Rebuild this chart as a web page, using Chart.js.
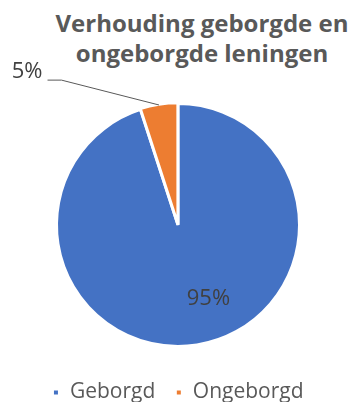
<!DOCTYPE html>
<html>
<head>
<meta charset="utf-8">
<script src="https://cdn.jsdelivr.net/npm/chart.js@4/dist/chart.umd.min.js"></script>
<style>
  body { margin: 0; background: #fff; }
  .wrap { position: relative; width: 356px; height: 402px; }
  .title {
    position: absolute; left: 0; top: 8px; width: 356px; box-sizing: border-box;
    padding-left: 48px; text-align: center; white-space: nowrap;
    font: bold 24px/30px "Open Sans", sans-serif; color: #595959;
  }
  canvas { position: absolute; left: 0; top: 0; }
</style>
</head>
<body>
<div class="wrap">
  <div class="title">Verhouding geborgde en<br>ongeborgde leningen</div>
  <canvas id="pieChart" width="356" height="402"></canvas>
</div>
<script>
const categories = ['Geborgd', 'Ongeborgd'];
const shares = [95, 5];
const percentLabels = ['95%', '5%'];

const colors = ['#4472C4', '#ED7D31'];

// where each label goes: angle clockwise from top (deg), distance as part of radius
const labelPlacement = [
    { angle: 157.7, dist: 0.66 },
    { angle: -38.8, dist: 1.53, leader: true }
];

const sliceLabels = {
    id: 'sliceLabels',
    afterDatasetsDraw(chart) {
        const ctx = chart.ctx;
        const meta = chart.getDatasetMeta(0);
        ctx.save();
        ctx.font = '22px "Open Sans", sans-serif';
        ctx.fillStyle = '#404040';
        meta.data.forEach((arc, i) => {
            const p = arc.getProps(['x', 'y', 'startAngle', 'endAngle', 'outerRadius'], true);
            const place = labelPlacement[i];
            const a = (place.angle - 90) * Math.PI / 180;
            const px = p.x + Math.cos(a) * p.outerRadius * place.dist;
            const py = p.y + Math.sin(a) * p.outerRadius * place.dist;
            if (place.leader) {
                const mid = (p.startAngle + p.endAngle) / 2;
                const ex = p.x + Math.cos(mid) * p.outerRadius;
                const ey = p.y + Math.sin(mid) * p.outerRadius;
                ctx.strokeStyle = '#595959';
                ctx.lineWidth = 1;
                ctx.beginPath();
                ctx.moveTo(ex, ey);
                ctx.lineTo(px, py);
                ctx.lineTo(px - 14, py);
                ctx.stroke();
                ctx.textAlign = 'right';
                ctx.textBaseline = 'alphabetic';
                ctx.fillText(percentLabels[i], px - 19, py - 2);
            } else {
                ctx.textAlign = 'center';
                ctx.textBaseline = 'middle';
                ctx.fillText(percentLabels[i], px, py);
            }
        });
        ctx.restore();
    }
};

new Chart(document.getElementById('pieChart'), {
    type: 'pie',
    data: {
        labels: categories,
        datasets: [{
            data: shares,
            backgroundColor: colors,
            borderColor: '#ffffff',
            borderWidth: 3,
            offset: [0, 2]
        }]
    },
    options: {
        responsive: false,
        animation: false,
        radius: 121.5,
        layout: { padding: { top: 88, bottom: -11 } },
        plugins: {
            legend: {
                position: 'bottom',
                labels: {
                    boxWidth: 7,
                    boxHeight: 7,
                    padding: 20,
                    color: '#595959',
                    font: { family: '"Open Sans", sans-serif', size: 21 }
                }
            },
            tooltip: { enabled: false }
        }
    },
    plugins: [sliceLabels]
});
</script>
</body>
</html>
